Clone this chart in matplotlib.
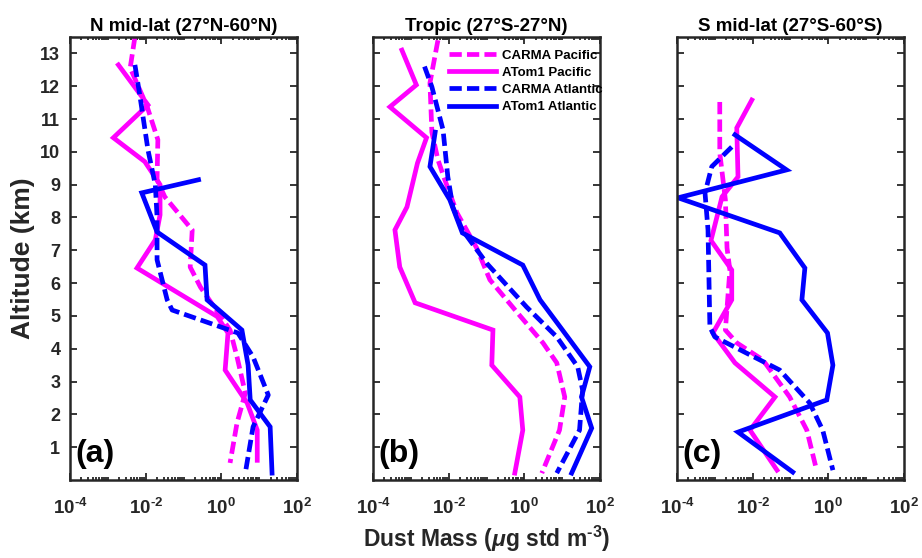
import matplotlib
matplotlib.use("Agg")
import matplotlib.pyplot as plt
from matplotlib.ticker import NullFormatter

plt.rcParams['font.family'] = ['Liberation Sans', 'DejaVu Sans']
plt.rcParams['font.weight'] = 'bold'
plt.rcParams['mathtext.fontset'] = 'custom'
plt.rcParams['mathtext.rm'] = 'Liberation Sans:bold'
plt.rcParams['mathtext.it'] = 'Liberation Sans:bold:italic'
plt.rcParams['mathtext.bf'] = 'Liberation Sans:bold'

# -------------------------
# data (altitude km, dust mass ug std m-3)
# -------------------------
titles = ["N mid-lat (27°N-60°N)", "Tropic (27°S-27°N)", "S mid-lat (27°S-60°S)"]
panel_tags = ["(a)", "(b)", "(c)"]
series_names = ["CARMA Pacific", "ATom1 Pacific", "CARMA Atlantic", "ATom1 Atlantic"]

# panel a
a_carma_pac_alt = [13.5, 12.56, 11.37, 10.37, 9.15, 8.63, 7.62, 6.49, 5.88, 4.57, 3.75, 2.65, 1.74, 0.52]
a_carma_pac = [0.0052, 0.0039, 0.011, 0.021, 0.020, 0.032, 0.17, 0.15, 0.28, 1.7, 2.6, 4.3, 2.6, 1.7]
a_atom_pac_alt = [12.65, 11.43, 10.43, 9.70, 9.0, 8.08, 7.32, 6.46, 4.98, 4.48, 3.35, 2.35, 1.52, 0.6]
a_atom_pac = [0.0019, 0.0115, 0.0014, 0.0095, 0.024, 0.024, 0.018, 0.0059, 0.78, 1.5, 1.26, 4.8, 8.9, 8.9]
a_carma_atl_alt = [12.65, 11.68, 10.06, 8.99, 8.02, 6.71, 5.49, 5.18, 4.48, 3.75, 2.59, 1.62, 0.21]
a_carma_atl = [0.0052, 0.0071, 0.0115, 0.018, 0.020, 0.020, 0.037, 0.050, 2.75, 6.9, 17.4, 6.9, 4.3]
a_atom_atl_alt = [9.15, 8.75, 7.56, 6.55, 5.49, 4.57, 3.5, 2.44, 1.62, 0.21]
a_atom_atl = [0.25, 0.0079, 0.020, 0.37, 0.42, 3.5, 5.1, 5.8, 19.5, 21.9]

# panel b
b_carma_pac_alt = [13.4, 12.1, 10.6, 9.76, 9.15, 8.14, 7.07, 6.1, 5.12, 4.18, 3.57, 2.53, 1.52, 0.21]
b_carma_pac = [0.0052, 0.0032, 0.0036, 0.0052, 0.0079, 0.0166, 0.055, 0.123, 0.63, 3.1, 7.2, 11.7, 8.5, 2.9]
b_atom_pac_alt = [13.1, 12.04, 11.37, 10.43, 9.66, 8.32, 7.62, 6.49, 5.4, 4.57, 3.5, 2.53, 1.52, 0.21]
b_atom_pac = [0.00058, 0.0014, 0.00028, 0.0026, 0.0015, 0.00079, 0.00038, 0.00051, 0.0013, 0.148, 0.138, 0.76, 0.91, 0.56]
b_carma_atl_alt = [12.6, 11.98, 10.67, 9.24, 8.32, 7.62, 6.6, 5.27, 4.36, 3.45, 2.74, 1.52, 0.21]
b_carma_atl = [0.0023, 0.0036, 0.0071, 0.0095, 0.0129, 0.023, 0.102, 1.15, 7.2, 25.7, 34.7, 28.8, 7.2]
b_atom_atl_alt = [10.6, 9.55, 8.54, 7.53, 6.55, 5.49, 4.57, 3.45, 2.53, 1.58, 0.21]
b_atom_atl = [0.0044, 0.0032, 0.0107, 0.023, 0.91, 2.6, 10.2, 53.7, 32.4, 60.3, 17.8]

# panel c
c_carma_pac_alt = [11.52, 9.97, 8.54, 7.07, 6.4, 4.57, 4.18, 3.66, 2.53, 1.52, 0.3]
c_carma_pac = [0.00135, 0.00135, 0.0019, 0.0021, 0.0025, 0.0019, 0.0038, 0.0186, 0.095, 0.27, 0.49]
c_atom_pac_alt = [11.58, 10.73, 9.24, 8.63, 7.3, 6.4, 5.49, 4.48, 3.57, 2.53, 1.52, 0.3]
c_atom_pac = [0.0095, 0.0038, 0.0041, 0.00155, 0.00079, 0.0028, 0.0028, 0.00089, 0.0034, 0.039, 0.0085, 0.044]
c_carma_atl_alt = [10.15, 9.55, 8.75, 7.62, 4.66, 4.36, 3.35, 2.35, 1.52, 0.3]
c_carma_atl = [0.0028, 0.00083, 0.00055, 0.00066, 0.00074, 0.001, 0.052, 0.32, 0.71, 1.32]
c_atom_atl_alt = [10.52, 9.45, 8.6, 7.53, 6.46, 5.49, 4.48, 3.5, 2.44, 1.46, 0.24]
c_atom_atl = [0.0034, 0.079, 0.000107, 0.052, 0.24, 0.20, 0.95, 1.32, 0.91, 0.0041, 0.115]

panels = [
    [(a_carma_pac, a_carma_pac_alt), (a_atom_pac, a_atom_pac_alt),
     (a_carma_atl, a_carma_atl_alt), (a_atom_atl, a_atom_atl_alt)],
    [(b_carma_pac, b_carma_pac_alt), (b_atom_pac, b_atom_pac_alt),
     (b_carma_atl, b_carma_atl_alt), (b_atom_atl, b_atom_atl_alt)],
    [(c_carma_pac, c_carma_pac_alt), (c_atom_pac, c_atom_pac_alt),
     (c_carma_atl, c_carma_atl_alt), (c_atom_atl, c_atom_atl_alt)],
]

colors = ["#ff00ff", "#ff00ff", "#0000ff", "#0000ff"]
styles = ["--", "-", "--", "-"]

xticks = [1e-4, 1e-2, 1e0, 1e2]
xticklabels = [r"$\mathrm{10^{\text{-}4}}$", r"$\mathrm{10^{\text{-}2}}$",
               r"$\mathrm{10^{0}}$", r"$\mathrm{10^{2}}$"]
yticks = list(range(1, 14))

# -------------------------
# figure
# -------------------------
fig = plt.figure(figsize=(9.22, 5.58), dpi=100)
lefts = [70 / 922, 373 / 922, 677 / 922]
axw = 227 / 922
bot = 78 / 558
axh = 443 / 558
grey = "#262626"

for i, ax_left in enumerate(lefts):
    ax = fig.add_axes([ax_left, bot, axw, axh])
    for (vals, alts), col, ls, name in zip(panels[i], colors, styles, series_names):
        line, = ax.plot(vals, alts, color=col, linestyle=ls, lw=3.4, label=name,
                        solid_joinstyle='miter')
        if ls == "--":
            line.set_dashes((2.6, 1.1))
    ax.set_xscale("log")
    ax.set_xlim(1e-4, 1e2)
    ax.set_ylim(0, 13.5)
    ax.set_xticks(xticks)
    ax.set_xticklabels(xticklabels, fontsize=13.5, color=grey)
    minors = [m * 10.0 ** e for e in range(-4, 2) for m in range(1, 10)]
    ax.set_xticks(minors, minor=True)
    ax.xaxis.set_minor_formatter(NullFormatter())
    ax.set_yticks(yticks)
    if i == 0:
        ax.set_yticklabels([str(t) for t in yticks], fontsize=13, color=grey)
        ax.set_ylabel("Altitude (km)", fontsize=19, fontweight="bold", color=grey, labelpad=4)
    else:
        ax.set_yticklabels([])
    ax.tick_params(which="both", direction="in", top=True, right=True, width=1.3, color=grey)
    ax.tick_params(which="major", length=5, pad=7)
    ax.tick_params(axis="x", which="major", pad=13)
    ax.tick_params(which="minor", length=2.5)
    for sp in ax.spines.values():
        sp.set_linewidth(1.8)
        sp.set_color(grey)
    ax.set_title(titles[i], fontsize=13.5, fontweight="bold", pad=4)
    ax.text(0.025, 0.025, panel_tags[i], transform=ax.transAxes, fontsize=23,
            fontweight="bold", ha="left", va="bottom")
    if i == 1:
        ax.legend(loc="upper right", bbox_to_anchor=(1.045, 0.99), frameon=False,
                  fontsize=9.5, handlelength=3.6, handletextpad=0.4,
                  labelspacing=0.38, borderaxespad=0.2)

fig.text(487 / 922, 4 / 558, r"Dust Mass ($\mu$g std m$^{\text{-}3}$)", fontsize=16.5,
         fontweight="bold", color=grey, ha="center", va="bottom")

fig.savefig("out.png", dpi=100)
